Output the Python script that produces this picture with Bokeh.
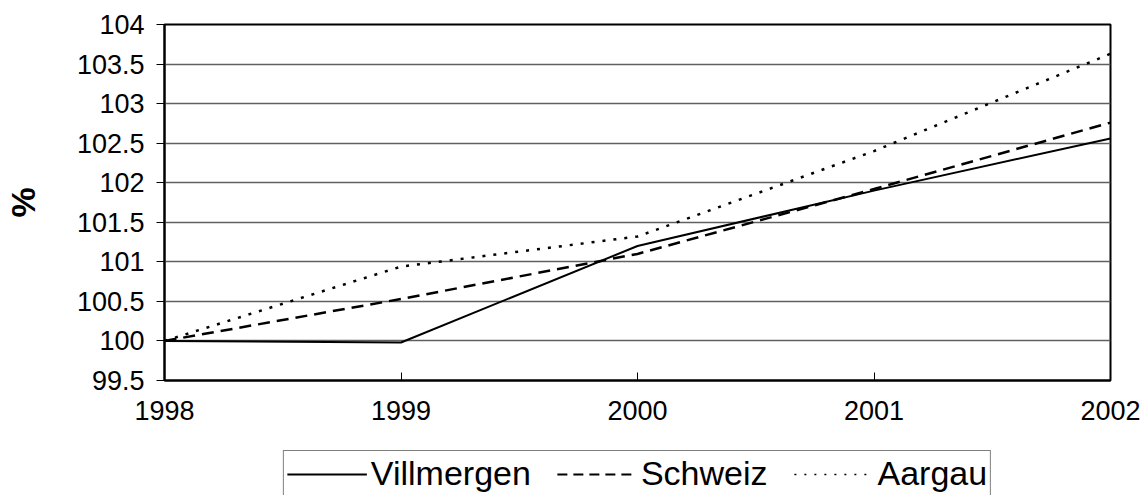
from bokeh.plotting import figure
from bokeh.models import Legend, LegendItem, FixedTicker, Range1d
from bokeh.layouts import column
from bokeh.embed import file_html
from bokeh.resources import INLINE

years = [1998, 1999, 2000, 2001, 2002]
villmergen = [100.0, 99.98, 101.2, 101.9, 102.56]
schweiz = [100.0, 100.53, 101.1, 101.92, 102.76]
aargau = [100.0, 100.94, 101.32, 102.4, 103.63]
y_ticks = [99.5, 100, 100.5, 101, 101.5, 102, 102.5, 103, 103.5, 104]
y_labels = {99.5: "99.5", 100: "100", 100.5: "100.5", 101: "101", 101.5: "101.5",
            102: "102", 102.5: "102.5", 103: "103", 103.5: "103.5", 104: "104"}
series_names = ["Villmergen", "Schweiz", "Aargau"]

FONT = "Liberation Sans"
STYLES = [dict(line_width=2, line_dash="solid"),
          dict(line_width=2.5, line_dash="12 7"),
          dict(line_width=2.5, line_dash="3 8")]
LEGEND_STYLES = [dict(line_width=2, line_dash="solid"),
                 dict(line_width=2, line_dash="10 6"),
                 dict(line_width=1.5, line_dash="2 8")]

p = figure(width=1146, height=445, output_backend="svg", toolbar_location=None,
           x_range=Range1d(1998, 2002), y_range=Range1d(99.5, 104),
           min_border_left=157, min_border_right=36, min_border_top=24,
           min_border_bottom=65)

p.outline_line_color = "black"
p.outline_line_width = 2
p.background_fill_color = "white"
p.border_fill_color = "white"

p.xaxis.ticker = FixedTicker(ticks=years)
p.xaxis.major_label_overrides = {y: str(y) for y in years}
p.yaxis.ticker = FixedTicker(ticks=y_ticks)
p.yaxis.major_label_overrides = y_labels
for ax in (p.xaxis[0], p.yaxis[0]):
    ax.axis_line_color = "black"
    ax.axis_line_width = 2
    ax.major_tick_line_color = "black"
    ax.major_tick_line_width = 1
    ax.minor_tick_line_color = None
    ax.major_label_text_font = FONT
    ax.major_label_text_font_size = "27px"
    ax.major_label_text_color = "black"
p.xaxis.major_tick_in = 8
p.xaxis.major_tick_out = 0
p.xaxis.major_label_standoff = 20
p.yaxis.major_tick_in = 0
p.yaxis.major_tick_out = 8
p.yaxis.major_label_standoff = 12
p.yaxis.axis_label = "%"
p.yaxis.axis_label_text_font = FONT
p.yaxis.axis_label_text_font_style = "bold"
p.yaxis.axis_label_text_font_size = "34px"
p.yaxis.axis_label_text_color = "black"
p.yaxis.axis_label_standoff = 32

p.xgrid.grid_line_color = None
p.ygrid.grid_line_color = "#606060"
p.ygrid.grid_line_width = 1.4

for vals, st in zip([villmergen, schweiz, aargau], STYLES):
    p.line(years, vals, line_color="black", **st)

# legend strip below the chart (frames of both figures are aligned)
lg = figure(width=1146, height=50, output_backend="svg", toolbar_location=None,
            x_range=Range1d(0, 1), y_range=Range1d(0, 1),
            x_axis_type=None, y_axis_type=None,
            min_border_left=157, min_border_right=36, min_border_top=0,
            min_border_bottom=0)
lg.outline_line_color = None
lg.background_fill_color = "white"
lg.border_fill_color = "white"
lg.xgrid.grid_line_color = None
lg.ygrid.grid_line_color = None

items = []
for name, st in zip(series_names, LEGEND_STYLES):
    # placeholder line outside the visible range: only its legend glyph shows
    r = lg.line([-5, -4], [-5, -5], line_color="black", **st)
    items.append(LegendItem(label=name, renderers=[r]))

legend = Legend(items=items, orientation="horizontal", location="top_center",
                label_text_font=FONT, label_text_font_size="34px",
                label_text_color="black",
                glyph_width=80, glyph_height=30, label_standoff=4, spacing=26,
                padding=3, margin=5,
                border_line_color="black", border_line_width=1.5,
                background_fill_color="white")
lg.add_layout(legend, "center")

layout = column(p, lg, spacing=0)
open("out.html", "w").write(file_html(layout, INLINE))
